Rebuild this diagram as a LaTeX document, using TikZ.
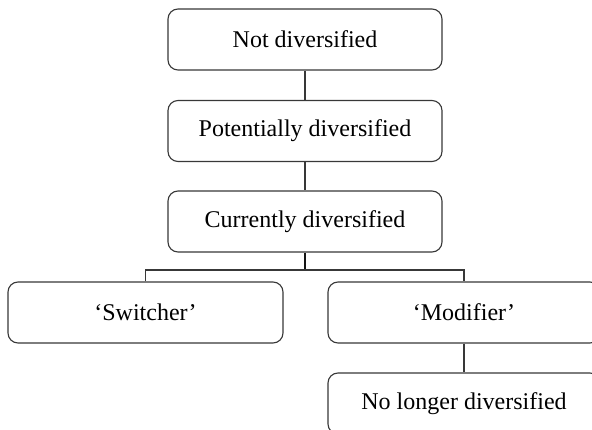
\documentclass[tikz,border=0pt]{standalone}
\usepackage{fontspec}
\setmainfont{Liberation Serif}
\begin{document}
\begin{tikzpicture}[x=1pt,y=-1pt,
  stagebox/.style={draw=black!78, line width=1.1pt, rounded corners=10pt,
    minimum width=274pt, minimum height=61pt, inner sep=0pt,
    font=\fontsize{24}{28}\selectfont, text=black},
  link/.style={draw=black!78, line width=1.1pt},
  stub/.style={draw=black!92, line width=2pt}]
\clip (0,0) rectangle (592,430);
\fill[white] (0,0) rectangle (592,430);
\node[stagebox] (nd) at (305,39.5) {Not diversified};
\node[stagebox] (pd) at (305,131) {Potentially diversified};
\node[stagebox] (cd) at (305,221.5) {Currently diversified};
\node[stagebox, minimum width=275pt] (sw) at (145.5,312.5) {`Switcher'};
\node[stagebox, minimum width=272pt] (md) at (464,312.5) {`Modifier'};
\node[stagebox, minimum width=272pt] (nl) at (464,403.5) {No longer diversified};
\coordinate (split) at (305,270);
\draw[link] (nd.south) -- (pd.north);
\draw[link] (pd.south) -- (cd.north);
\draw[stub] (cd.south) -- (split);
\draw[link] (sw.north) |- (split) -| (md.north);
\draw[link] (md.south) -- (nl.north);
\end{tikzpicture}
\end{document}
